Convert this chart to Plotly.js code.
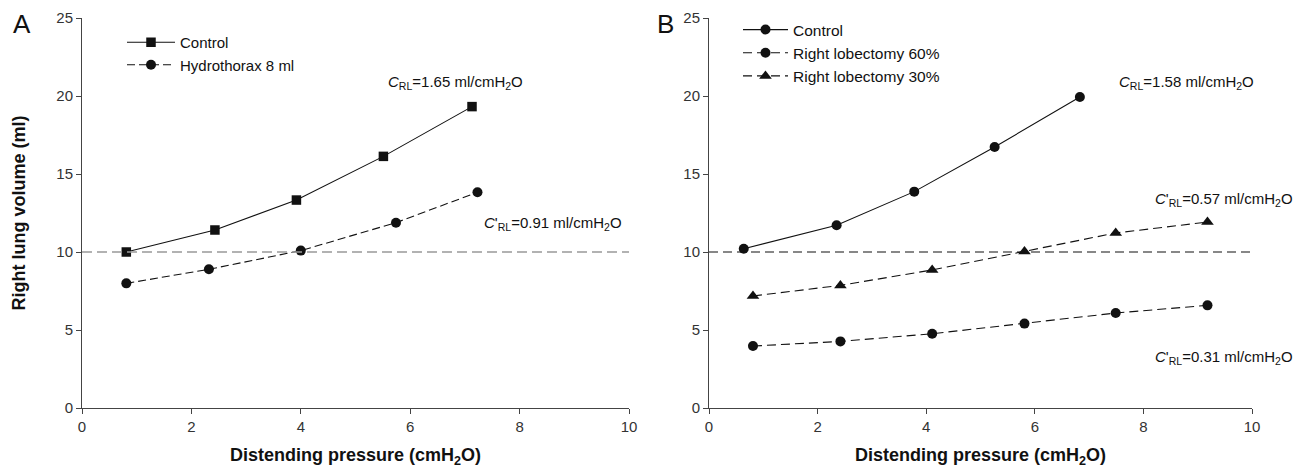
<!DOCTYPE html>
<html>
<head>
<meta charset="utf-8">
<script src="https://cdn.plot.ly/plotly-3.0.1.min.js"></script>
<style>html,body{margin:0;padding:0;background:#fff;}#chart{width:1303px;height:474px;}</style>
</head>
<body>
<div id="chart"></div>
<script>
// Panel A
const pressA_control = [0.81, 2.43, 3.92, 5.51, 7.13];
const volA_control   = [10.0, 11.41, 13.33, 16.13, 19.32];
const pressA_hydro   = [0.81, 2.32, 4.00, 5.74, 7.23];
const volA_hydro     = [7.99, 8.89, 10.09, 11.88, 13.83];
// Panel B
const pressB_control = [0.64, 2.35, 3.78, 5.26, 6.83];
const volB_control   = [10.21, 11.71, 13.87, 16.73, 19.94];
const pressB_lob     = [0.81, 2.42, 4.11, 5.81, 7.49, 9.18];
const volB_lob60     = [3.97, 4.27, 4.76, 5.41, 6.09, 6.58];
const volB_lob30     = [7.18, 7.86, 8.85, 10.04, 11.22, 11.92];
// Reference line and axis ticks
const refVolume = 10;
const xTicks = [0, 2, 4, 6, 8, 10];
const yTicks = [0, 5, 10, 15, 20, 25];
const seriesNames = ['Control', 'Hydrothorax 8 ml', 'Control', 'Right lobectomy 60%', 'Right lobectomy 30%'];
const complianceLabels = [
  '<i>C</i><sub>RL</sub>=1.65 ml/cmH<sub>2</sub>O',
  '<i>C</i>\'<sub>RL</sub>=0.91 ml/cmH<sub>2</sub>O',
  '<i>C</i><sub>RL</sub>=1.58 ml/cmH<sub>2</sub>O',
  '<i>C</i>\'<sub>RL</sub>=0.57 ml/cmH<sub>2</sub>O',
  '<i>C</i>\'<sub>RL</sub>=0.31 ml/cmH<sub>2</sub>O'
];

const W = 1303, H = 474;
const px = v => v / W;
const py = v => 1 - v / H;
const ink = '#111';
const FONT = 'Liberation Sans, Arial, sans-serif';

function trace(x, y, name, sym, dash, xa, ya, leg) {
  return {
    x: x, y: y, name: name, type: 'scatter', mode: 'lines+markers',
    xaxis: xa, yaxis: ya, legend: leg,
    line: {color: ink, width: 1.1, dash: dash},
    marker: {symbol: sym, size: sym === 'triangle-up' ? 11 : (sym === 'square' ? 9.5 : 10), color: ink},
    hoverinfo: 'x+y'
  };
}

const data = [
  trace(pressA_control, volA_control, seriesNames[0], 'square', 'solid', 'x', 'y', 'legend'),
  trace(pressA_hydro, volA_hydro, seriesNames[1], 'circle', '8px,4px', 'x', 'y', 'legend'),
  trace(pressB_control, volB_control, seriesNames[2], 'circle', 'solid', 'x2', 'y2', 'legend2'),
  trace(pressB_lob, volB_lob60, seriesNames[3], 'circle', '9px,5px', 'x2', 'y2', 'legend2'),
  trace(pressB_lob, volB_lob30, seriesNames[4], 'triangle-up', '9px,5px', 'x2', 'y2', 'legend2')
];

const axisCommon = {
  showgrid: false, zeroline: false, showline: true, linecolor: '#444', linewidth: 1,
  ticks: 'outside', ticklen: 5, tickcolor: '#444', tickwidth: 1,
  tickfont: {family: FONT, size: 15, color: '#333'},
  fixedrange: true
};
const ydom = [(H - 408) / H, (H - 18) / H];

const xTitle = {text: '<b>Distending pressure (cmH<sub>2</sub>O)</b>', font: {family: FONT, size: 18, color: '#111'}, standoff: 14};

const layout = {
  width: W, height: H,
  margin: {l: 0, r: 0, t: 0, b: 0},
  paper_bgcolor: '#fff', plot_bgcolor: '#fff',
  font: {family: FONT, color: '#111'},
  xaxis: Object.assign({}, axisCommon, {domain: [px(82), px(629)], range: [0, 10], tickvals: xTicks, anchor: 'y', title: xTitle}),
  yaxis: Object.assign({}, axisCommon, {domain: ydom, range: [0, 25], tickvals: yTicks, anchor: 'x',
    title: {text: '<b>Right lung volume (ml)</b>', font: {family: FONT, size: 18, color: '#111'}, standoff: 26}}),
  xaxis2: Object.assign({}, axisCommon, {domain: [px(709), px(1252)], range: [0, 10], tickvals: xTicks, anchor: 'y2', title: xTitle}),
  yaxis2: Object.assign({}, axisCommon, {domain: ydom, range: [0, 25], tickvals: yTicks, anchor: 'x2'}),
  showlegend: true,
  legend: {x: px(122), y: py(26), xanchor: 'left', yanchor: 'top', bgcolor: 'rgba(0,0,0,0)',
    font: {family: FONT, size: 15, color: '#111'}, itemwidth: 48, tracegroupgap: 0},
  legend2: {x: px(738), y: py(13), xanchor: 'left', yanchor: 'top', bgcolor: 'rgba(0,0,0,0)',
    font: {family: FONT, size: 15.5, color: '#111'}, itemwidth: 45, tracegroupgap: 0},
  shapes: [
    {type: 'line', xref: 'x', yref: 'y', x0: 0, x1: 10, y0: refVolume, y1: refVolume,
     line: {color: '#999', width: 1.3, dash: '10px,5px'}},
    {type: 'line', xref: 'x2', yref: 'y2', x0: 0, x1: 10, y0: refVolume, y1: refVolume,
     line: {color: ink, width: 1.2, dash: '9px,5px'}}
  ],
  annotations: [
    {text: 'A', xref: 'paper', yref: 'paper', x: px(11), y: py(24), xanchor: 'left', yanchor: 'middle', showarrow: false, font: {family: FONT, size: 26, color: '#111'}},
    {text: 'B', xref: 'paper', yref: 'paper', x: px(655), y: py(24), xanchor: 'left', yanchor: 'middle', showarrow: false, font: {family: FONT, size: 26, color: '#111'}},
    {text: complianceLabels[0], xref: 'paper', yref: 'paper', x: px(386), y: py(82), xanchor: 'left', yanchor: 'middle', showarrow: false, font: {family: FONT, size: 15, color: '#111'}},
    {text: complianceLabels[1], xref: 'paper', yref: 'paper', x: px(482), y: py(223), xanchor: 'left', yanchor: 'middle', showarrow: false, font: {family: FONT, size: 15, color: '#111'}},
    {text: complianceLabels[2], xref: 'paper', yref: 'paper', x: px(1117), y: py(82), xanchor: 'left', yanchor: 'middle', showarrow: false, font: {family: FONT, size: 15, color: '#111'}},
    {text: complianceLabels[3], xref: 'paper', yref: 'paper', x: px(1153), y: py(199), xanchor: 'left', yanchor: 'middle', showarrow: false, font: {family: FONT, size: 15, color: '#111'}},
    {text: complianceLabels[4], xref: 'paper', yref: 'paper', x: px(1153), y: py(357), xanchor: 'left', yanchor: 'middle', showarrow: false, font: {family: FONT, size: 15, color: '#111'}}
  ]
};

Plotly.newPlot('chart', data, layout, {displayModeBar: false, staticPlot: true});
</script>
</body>
</html>
